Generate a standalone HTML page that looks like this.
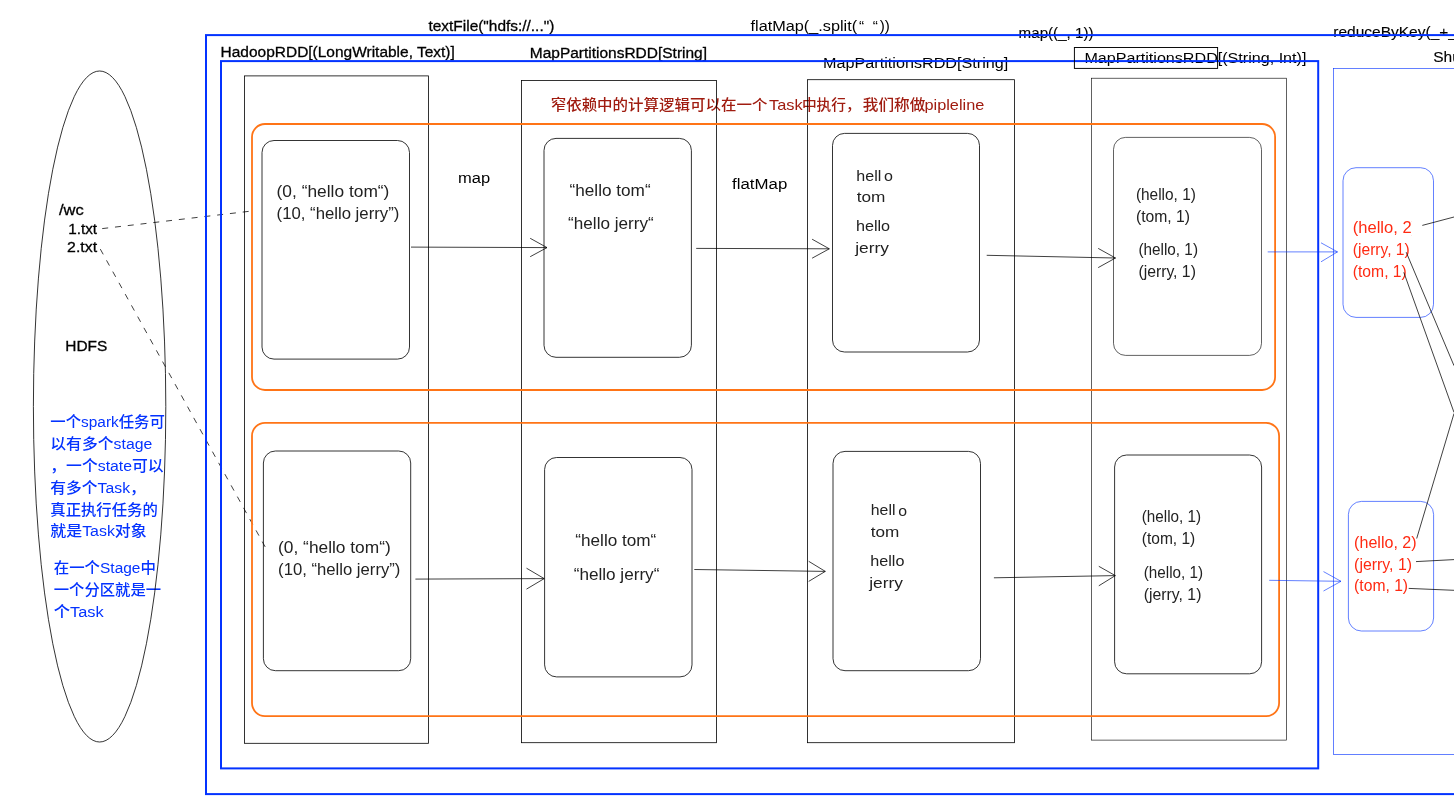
<!DOCTYPE html>
<html lang="zh">
<head>
<meta charset="utf-8">
<title>Spark WordCount RDD pipeline</title>
<style>
html,body{margin:0;padding:0;background:#fff;}
body{width:1454px;height:807px;overflow:hidden;}
svg{display:block;will-change:transform;}
text{font-family:"Liberation Sans","Noto Sans CJK SC",sans-serif;font-size:15.5px;fill:#000;stroke:#000;stroke-width:.3px;}
.pf,.blue,.dred,.lt{stroke:none;}
.m1{stroke-width:.12px;}
.k{fill:none;stroke:#000;stroke-width:.8;}
.g{stroke-width:.62;}
.r{fill:none;stroke:#000;stroke-width:.72;}
.o{fill:none;stroke:#ff7416;stroke-width:1.8;}
.b{fill:none;stroke:#0433ff;stroke-width:2;}
.lb{fill:none;stroke:#0433ff;stroke-width:.62;}
.ln{fill:none;stroke:#000;stroke-width:.75;}

.blue{fill:#0433ff;}
.dred{fill:#a01c10;}
.s14{font-size:14.4px;}
.dred,.blue{font-weight:500;}
.pf{font-size:16.2px;fill:#222;}
.c3{font-size:14.2px;}
.red{font-size:17.2px;fill:#ff2a12;}
.blue{font-size:15.2px;}
</style>
</head>
<body>
<svg width="1454" height="807" viewBox="0 0 1454 807">
<defs><clipPath id="c1"><rect x="1340" y="210" width="72.100" height="32"/></clipPath></defs>
<rect width="1454" height="807" fill="#fff"/>

<g>
<text class="blue" x="50.3" y="427.3" textLength="114.6" lengthAdjust="spacingAndGlyphs">一个spark任务可</text>
<text class="blue" x="50.3" y="449.3" textLength="102" lengthAdjust="spacingAndGlyphs">以有多个stage</text>
<text class="blue" x="50.3" y="471.2" textLength="113.4" lengthAdjust="spacingAndGlyphs">，一个state可以</text>
<text class="blue" x="50.3" y="492.6" textLength="95.5" lengthAdjust="spacingAndGlyphs">有多个Task，</text>
<text class="blue" x="50.3" y="514.5" textLength="107.500" lengthAdjust="spacingAndGlyphs">真正执行任务的</text>
<text class="blue" x="50.3" y="536.4" textLength="96.400" lengthAdjust="spacingAndGlyphs">就是Task对象</text>
<text class="blue" x="53.7" y="573.2" textLength="102.200" lengthAdjust="spacingAndGlyphs">在一个Stage中</text>
<text class="blue" x="53.7" y="595.1" textLength="107.500" lengthAdjust="spacingAndGlyphs">一个分区就是一</text>
<text class="blue" x="53.7" y="616.8" textLength="50" lengthAdjust="spacingAndGlyphs">个Task</text>
</g>
<text class="m1" x="1333.3" y="36.5">reduceByKey(_+_)</text>
<text class="m1" x="1433.2" y="61.5">ShuffledRDD[(String, Int)]</text>
<text class="lt" y="31.3"><tspan x="750.5" textLength="106.600" lengthAdjust="spacingAndGlyphs">flatMap(_.split(</tspan><tspan x="859">“ </tspan><tspan x="872.700">“</tspan><tspan x="879.700" textLength="10.100" lengthAdjust="spacingAndGlyphs">))</tspan></text>
<text id="t0" x="58.9" y="215.2" textLength="24.8" lengthAdjust="spacingAndGlyphs">/wc</text>
<text id="t1" x="68.2" y="233.5" textLength="28.9" lengthAdjust="spacingAndGlyphs">1.txt</text>
<text id="t2" x="67.1" y="251.8" textLength="30.0" lengthAdjust="spacingAndGlyphs">2.txt</text>
<text id="t3" x="65.3" y="350.6" textLength="42.0" lengthAdjust="spacingAndGlyphs">HDFS</text>
<text id="t4" x="428.5" y="30.6" textLength="125.8" lengthAdjust="spacingAndGlyphs">textFile("hdfs://...")</text>
<text id="t5" class="m1" x="1018.6" y="37.7" textLength="74.9" lengthAdjust="spacingAndGlyphs">map((_, 1))</text>
<text id="t6" x="220.6" y="57.0" textLength="234.2" lengthAdjust="spacingAndGlyphs">HadoopRDD[(LongWritable, Text)]</text>
<text id="t7" x="529.8" y="57.9" textLength="177.2" lengthAdjust="spacingAndGlyphs">MapPartitionsRDD[String]</text>
<text id="t8" class="lt" x="823.1" y="68.4" textLength="185.2" lengthAdjust="spacingAndGlyphs">MapPartitionsRDD[String]</text>
<text id="t9" class="lt" x="1084.4" y="63.1" textLength="222.0" lengthAdjust="spacingAndGlyphs">MapPartitionsRDD[(String, Int)]</text>
<text id="tred" class="dred s14" y="109.8"><tspan x="550.7" textLength="216.7" lengthAdjust="spacingAndGlyphs">窄依赖中的计算逻辑可以在一个</tspan><tspan x="769.0" textLength="33.7" lengthAdjust="spacingAndGlyphs">Task</tspan><tspan x="801.9" textLength="58.9" lengthAdjust="spacingAndGlyphs">中执行，</tspan><tspan x="862.8" textLength="62.5" lengthAdjust="spacingAndGlyphs">我们称做</tspan><tspan x="924.5" textLength="59.8" lengthAdjust="spacingAndGlyphs">pipleline</tspan></text>
<text id="t15" class="lt" x="458.0" y="183.0" textLength="32.1" lengthAdjust="spacingAndGlyphs">map</text>
<text id="t16" class="lt" x="732.1" y="189.2" textLength="55.2" lengthAdjust="spacingAndGlyphs">flatMap</text>
<text id="t17" class="pf" x="276.6" y="197.0" textLength="112.8" lengthAdjust="spacingAndGlyphs">(0, “hello tom“)</text>
<text id="t18" class="pf" x="276.6" y="219.1" textLength="122.7" lengthAdjust="spacingAndGlyphs">(10, “hello jerry”)</text>
<text id="t19" class="pf" x="278.1" y="552.6" textLength="112.6" lengthAdjust="spacingAndGlyphs">(0, “hello tom“)</text>
<text id="t20" class="pf" x="278.1" y="574.9" textLength="122.3" lengthAdjust="spacingAndGlyphs">(10, “hello jerry”)</text>
<text id="t21" class="pf" x="569.5" y="195.8" textLength="81.1" lengthAdjust="spacingAndGlyphs">“hello tom“</text>
<text id="t22" class="pf" x="568.1" y="229.0" textLength="85.6" lengthAdjust="spacingAndGlyphs">“hello jerry“</text>
<text id="t23" class="pf" x="575.3" y="546.0" textLength="81.0" lengthAdjust="spacingAndGlyphs">“hello tom“</text>
<text id="t24" class="pf" x="573.7" y="579.6" textLength="85.7" lengthAdjust="spacingAndGlyphs">“hello jerry“</text>
<text id="t25" class="pf c3" x="856.3" y="180.5" textLength="36.7" lengthAdjust="spacingAndGlyphs">hell<tspan dx="2.5" dy=".6">o</tspan></text>
<text id="t26" class="pf c3" x="856.7" y="202.1" textLength="28.7" lengthAdjust="spacingAndGlyphs">tom</text>
<text id="t27" class="pf c3" x="855.9" y="231.0" textLength="34.2" lengthAdjust="spacingAndGlyphs">hello</text>
<text id="t28" class="pf c3" x="855.2" y="252.7" textLength="33.7" lengthAdjust="spacingAndGlyphs">jerry</text>
<text id="t29" class="pf c3" x="870.8" y="515.0" textLength="36.2" lengthAdjust="spacingAndGlyphs">hell<tspan dx="2.5" dy=".6">o</tspan></text>
<text id="t30" class="pf c3" x="870.8" y="536.6" textLength="28.6" lengthAdjust="spacingAndGlyphs">tom</text>
<text id="t31" class="pf c3" x="870.2" y="565.9" textLength="34.2" lengthAdjust="spacingAndGlyphs">hello</text>
<text id="t32" class="pf c3" x="869.2" y="587.6" textLength="33.7" lengthAdjust="spacingAndGlyphs">jerry</text>
<text id="t33" class="pf" x="1135.9" y="199.5" textLength="60.0" lengthAdjust="spacingAndGlyphs">(hello, 1)</text>
<text id="t34" class="pf" x="1135.9" y="221.6" textLength="54.2" lengthAdjust="spacingAndGlyphs">(tom, 1)</text>
<text id="t35" class="pf" x="1138.4" y="254.8" textLength="59.6" lengthAdjust="spacingAndGlyphs">(hello, 1)</text>
<text id="t36" class="pf" x="1138.4" y="276.5" textLength="57.5" lengthAdjust="spacingAndGlyphs">(jerry, 1)</text>
<text id="t37" class="pf" x="1141.8" y="522.4" textLength="59.3" lengthAdjust="spacingAndGlyphs">(hello, 1)</text>
<text id="t38" class="pf" x="1141.8" y="544.4" textLength="53.5" lengthAdjust="spacingAndGlyphs">(tom, 1)</text>
<text id="t39" class="pf" x="1143.8" y="578.0" textLength="59.3" lengthAdjust="spacingAndGlyphs">(hello, 1)</text>
<text id="t40" class="pf" x="1143.8" y="599.9" textLength="57.6" lengthAdjust="spacingAndGlyphs">(jerry, 1)</text>
<text id="t41" class="pf red" clip-path="url(#c1)" x="1352.8" y="233.0" textLength="64.3" lengthAdjust="spacingAndGlyphs">(hello, 2)</text>
<text id="t42" class="pf red" x="1352.8" y="254.5" textLength="56.9" lengthAdjust="spacingAndGlyphs">(jerry, 1)</text>
<text id="t43" class="pf red" x="1352.8" y="276.6" textLength="54.0" lengthAdjust="spacingAndGlyphs">(tom, 1)</text>
<text id="t44" class="pf red" x="1354.1" y="547.6" textLength="62.5" lengthAdjust="spacingAndGlyphs">(hello, 2)</text>
<text id="t45" class="pf red" x="1354.1" y="569.5" textLength="57.9" lengthAdjust="spacingAndGlyphs">(jerry, 1)</text>
<text id="t46" class="pf red" x="1354.1" y="591.4" textLength="54.0" lengthAdjust="spacingAndGlyphs">(tom, 1)</text>
<!-- HDFS ellipse -->
<ellipse class="k" cx="99.6" cy="406.5" rx="66.2" ry="335.5"/>

<!-- dashed lines -->
<path class="ln" stroke-dasharray="6 6.860" d="M102.200 228.600 L249.400 211.300"/>
<path class="ln" stroke-dasharray="6 6.860" d="M100.300 249.100 L265.500 547.500"/>

<!-- stage frames -->
<rect class="b" x="206" y="35.1" width="1300" height="759"/>
<rect class="b" x="221" y="61.1" width="1097.200" height="707.300"/>

<!-- RDD columns -->
<rect class="k" x="244.500" y="75.900" width="184" height="667.400"/>
<rect class="k" x="521.500" y="80.400" width="195" height="662.300"/>
<rect class="k" x="807.500" y="79.700" width="207" height="663"/>
<rect class="k g" x="1091.600" y="78.200" width="194.900" height="661.900"/>
<rect class="k" style="stroke-width:.95" x="1074.400" y="47.500" width="143.200" height="20.900"/>

<!-- task frames -->
<rect class="o" x="252" y="124" width="1023.100" height="266" rx="13"/>
<rect class="o" x="252" y="422.900" width="1027.100" height="293.200" rx="13"/>

<!-- partitions top -->
<rect class="k" x="262" y="140.500" width="147.500" height="218.600" rx="12"/>
<rect class="k" x="544" y="138.400" width="147.400" height="218.900" rx="12"/>
<rect class="k" x="832.500" y="133.400" width="147" height="218.600" rx="12"/>
<rect class="k g" x="1113.500" y="137.400" width="148" height="218" rx="12"/>
<!-- partitions bottom -->
<rect class="k" x="263.400" y="451" width="147.300" height="219.700" rx="12"/>
<rect class="k" x="544.600" y="457.500" width="147.400" height="219.400" rx="12"/>
<rect class="k" x="833" y="451.400" width="147.500" height="219.300" rx="12"/>
<rect class="k" x="1114.600" y="455" width="147" height="218.800" rx="12"/>

<!-- arrows -->
<path class="ln" d="M411 247.100 L547 247.600 M530.200 238.300 L547 247.600 L530.200 256.700"/>
<path class="ln" d="M696.200 248.400 L829.300 248.800 M812.100 239.200 L829.300 248.800 L812.100 258.200"/>
<path class="ln" d="M986.700 255.300 L1115.500 258 M1098.200 248.400 L1115.500 258 L1098.200 267.600"/>
<path class="ln" d="M415.400 579.100 L544.200 578.600 M526.500 568.200 L544.200 578.600 L526.500 589.100"/>
<path class="ln" d="M694.300 569.500 L825.300 571.400 M808.700 561.300 L825.300 571.400 L808.700 581.400"/>
<path class="ln" d="M993.900 577.800 L1115.300 575.600 M1098.800 566.300 L1115.300 575.600 L1098.800 585.800"/>

<!-- shuffle stage -->
<rect class="lb" x="1333.500" y="68.400" width="200" height="686.100"/>
<rect class="lb" x="1343" y="167.700" width="90.500" height="149.700" rx="13"/>
<rect class="lb" x="1348.400" y="501.400" width="85.200" height="129.600" rx="13"/>
<path class="lb" d="M1267.700 251.900 L1337.500 251.900 M1321 242.800 L1337.500 251.900 L1321 261.800"/>
<path class="lb" d="M1269.200 580.300 L1341 581.300 M1323.500 571.600 L1341 581.300 L1323.500 591"/>

<path class="ln" d="M1422.300 225.400 L1454 217"/>
<path class="ln" d="M1406.200 252.200 L1454 365.700"/>
<path class="ln" d="M1403.800 272.300 L1454 412.400"/>
<path class="ln" d="M1416.700 538.500 L1454 413.500"/>
<path class="ln" d="M1416 561.600 L1454 559.600"/>
<path class="ln" d="M1408.700 588.400 L1454 590.300"/>

</svg>
</body>
</html>
